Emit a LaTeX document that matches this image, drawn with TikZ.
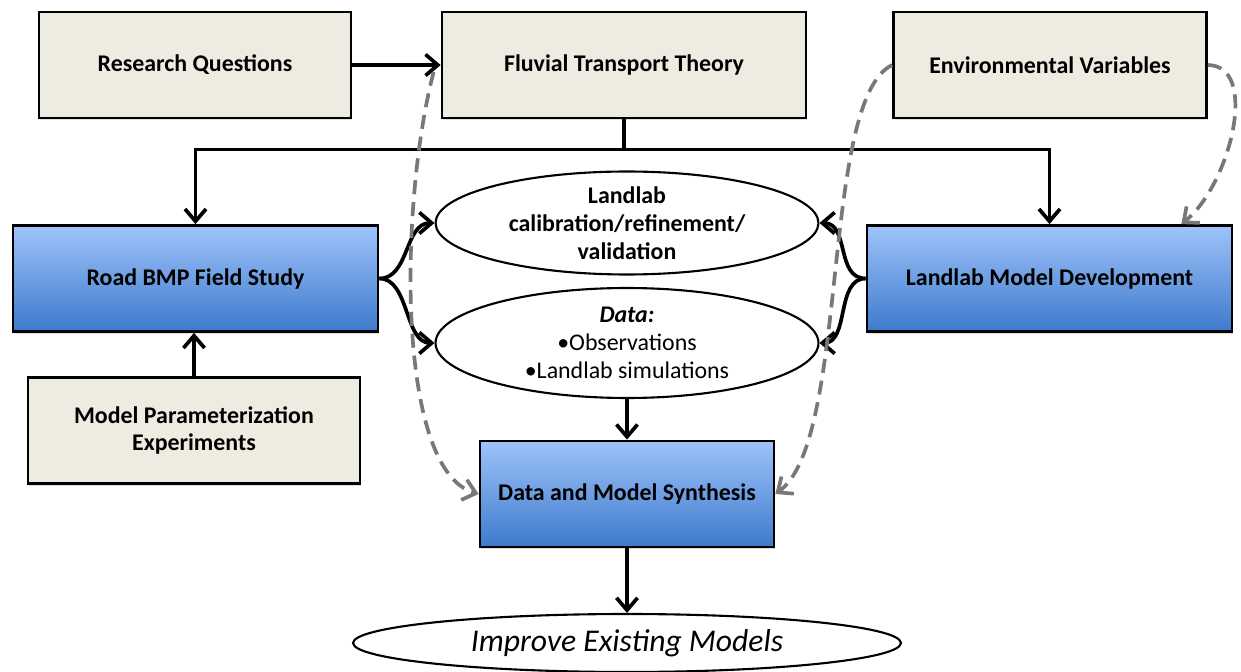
\documentclass[tikz,border=0pt]{standalone}
\usepackage{fontspec}
\setmainfont{Carlito}
\usetikzlibrary{positioning}
\usetikzlibrary{calc}
\usetikzlibrary{arrows.meta}
\usetikzlibrary{shapes}
\usetikzlibrary{shadows}
\definecolor{paper}{RGB}{238,236,225}
\definecolor{bluetop}{RGB}{158,195,250}
\definecolor{bluebot}{RGB}{62,122,204}
\definecolor{dashgray}{RGB}{120,120,120}
\tikzset{
        every node/.style={align=center,font=\bfseries\fontsize{13.6}{15.8}\selectfont},
        tanbox/.style={draw,line width=1.6pt,fill=paper,minimum height=2.12cm,
                drop shadow={shadow xshift=0.8pt,shadow yshift=-1.2pt,opacity=0.25}},
        bluebox/.style={draw,line width=1.6pt,top color=bluetop,bottom color=bluebot,minimum height=2.12cm,
                drop shadow={shadow xshift=0.8pt,shadow yshift=-1.2pt,opacity=0.25}},
        oval/.style={draw,ellipse,line width=1.2pt,fill=white,inner sep=0pt},
        flow/.style={line width=2.1pt,-{Straight Barb[length=7pt,width=12pt]}},
        link/.style={dashgray,line width=2.1pt,dash pattern=on 8pt off 4.5pt,-{Straight Barb[length=7pt,width=12pt]}},
        }

\begin{document}
\begin{tikzpicture}[x=0.02cm,y=-0.02cm]

			\useasboundingbox (0,0) rectangle (1241,672);

			% top row...................
			\node [tanbox, minimum width=6.24cm] (rq) at (195,65) {Research Questions};
			\node [tanbox, minimum width=7.28cm] (ftt) at (624,65) {Fluvial Transport Theory};
			\node [tanbox, minimum width=6.26cm] (env) at (1050,65) {Environmental Variables};

			% field study and model development...................
			\node [bluebox, minimum width=7.3cm] (road) at (195.5,278.5) {Road BMP Field Study};
			\node [bluebox, minimum width=7.3cm] (lmd) at (1049.5,278.5) {Landlab Model Development};
			\node [tanbox, minimum width=6.64cm] (mpe) at (194,430.5) {Model Parameterization\\Experiments};

			% ellipses in the middle...................
			\node [oval, minimum width=7.66cm, minimum height=2.06cm] (cal) at (627,223) {};
			\node (calt) at (cal) {Landlab\\calibration/refinement/\\validation};
			\node [oval, minimum width=7.66cm, minimum height=2.2cm] (dat) at (627,343) {};
			\node (datt) at (dat) {\textit{Data:}\\{\mdseries •Observations}\\{\mdseries •Landlab simulations}};

			% synthesis and result...................
			\node [bluebox, minimum width=5.88cm] (dms) at (627,494) {Data and Model Synthesis};
			\node [oval, minimum width=10.96cm, minimum height=1.16cm] (imp) at (627,643) {};
			\node [font=\itshape\fontsize{18}{21}\selectfont] (impt) at (imp) {Improve Existing Models};

			% solid arrows...................
			\draw [flow] (rq) -- (ftt);
			\coordinate (split) at ($(ftt.south)+(0,30)$);
			\draw [flow] (ftt.south) -- (split) -| (road.north);
			\draw [flow] (ftt.south) -- (split) -| (lmd.north);
			\draw [flow] (mpe.north) -- (mpe.north |- road.south);
			\draw [flow] (dat.south) -- (dms.north);
			\draw [flow] (dms.south) -- (imp.north);

			% brace arrows to the ellipses.........
			\draw [flow] (road.east) .. controls +(30,0) and +(-30,0) .. (cal.west);
			\draw [flow] (road.east) .. controls +(30,0) and +(-30,0) .. (dat.west);
			\draw [flow] (lmd.west) .. controls +(-30,0) and +(30,0) .. (cal.east);
			\draw [flow] (lmd.west) .. controls +(-30,0) and +(30,0) .. (dat.east);

			% dashed links.........
			\draw [link] ($(ftt.west)+(-7,7)$) .. controls (400,200) and (395,470) .. (dms.west);
			\draw [link] (env.west) .. controls (820,100) and (850,440) .. (dms.east);
			\coordinate (envin) at ($(lmd.north east)+(-52,0)$);
			\draw [link] (env.east) .. controls (1260,66) and (1230,185) .. (envin);
		\end{tikzpicture}
\end{document}
